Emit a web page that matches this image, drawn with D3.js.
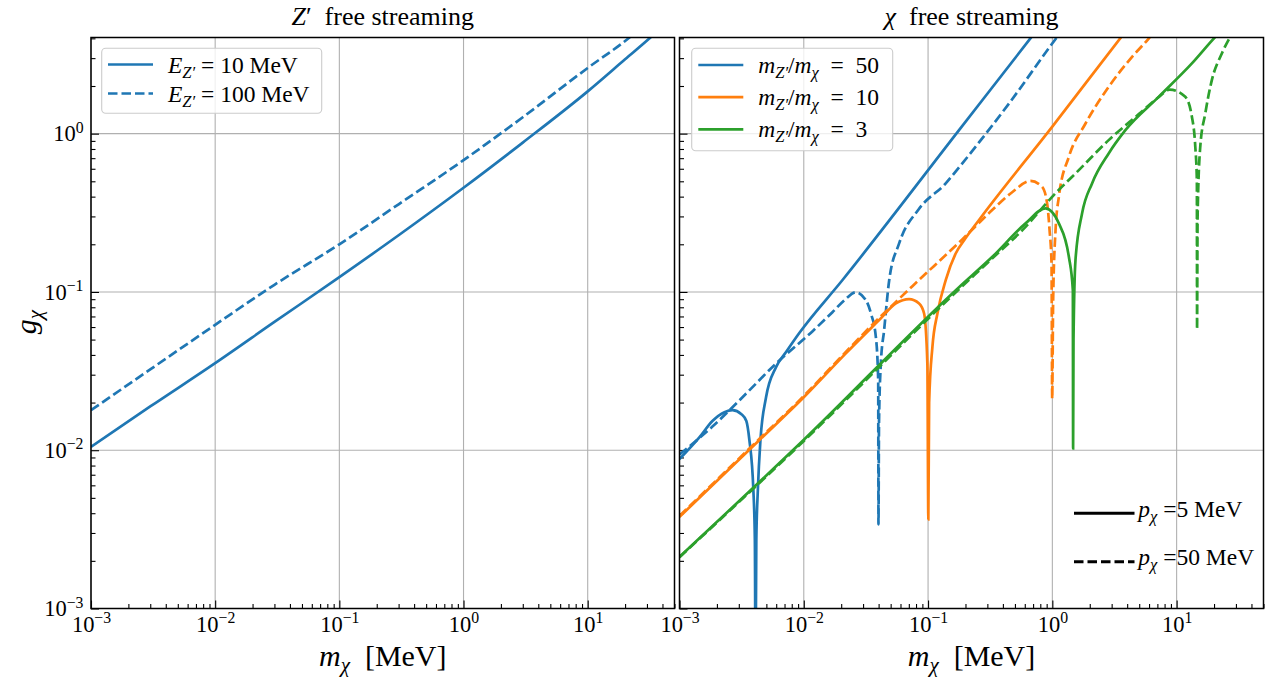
<!DOCTYPE html>
<html><head><meta charset="utf-8">
<script src="https://cdn.jsdelivr.net/npm/d3@7"></script>
<style>
body{margin:0;background:#fff}
svg{display:block}
svg text{font-family:"Liberation Serif",serif;fill:#000}
</style>
</head><body>
<svg id="chart" width="1267" height="677" font-family="Liberation Serif"></svg>
<script>
// ---------------- data (m_chi [MeV], g_chi) ----------------
const xDomain = [1e-3, 50];
const yDomain = [1e-3, 4.05];
const xTickExps = [-3, -2, -1, 0, 1];
const yTickExps = [-3, -2, -1, 0];

// Left panel: Z' free streaming
const zpE10 = [[0.001,0.0105],[0.003,0.0189],[0.01,0.0355],[0.03,0.0646],[0.1,0.124],[0.3,0.228],[1,0.455],[3,0.878],[10,1.85],[20,2.95],[32,4.05],[50,5.6]];
const zpE100 = [[0.001,0.0179],[0.003,0.0324],[0.01,0.062],[0.03,0.111],[0.1,0.2],[0.3,0.358],[1,0.68],[3,1.27],[10,2.6],[21.7,4.05],[50,7.4]];

// Right panel: chi free streaming, ratio 50 / 10 / 3, p = 5 MeV (solid) / 50 MeV (dashed)
const r50p5 = [[0.001,0.0088],[0.00145,0.0121],[0.00184,0.0153],[0.0023,0.0174],[0.00267,0.0179],[0.00315,0.0169],[0.00345,0.0153],[0.00365,0.0116],[0.00393,0.0056],[0.00404,0.0027],[0.00409,0.0004],[0.00415,0.0027],[0.00427,0.0056],[0.00448,0.0116],[0.00497,0.0216],[0.00598,0.0335],[0.0072,0.0417],[0.0092,0.055],[0.0205,0.119],[0.1775,1.052],[0.668,4.01],[1.0,6.0]];
const r50p50 = [[0.001,0.0094],[0.00184,0.0141],[0.00344,0.0228],[0.00598,0.0353],[0.01178,0.0565],[0.017,0.0745],[0.0215,0.0895],[0.0262,0.0995],[0.0316,0.0888],[0.0347,0.0731],[0.038,0.052],[0.0397,0.0277],[0.0399,0.0034],[0.0403,0.015],[0.0417,0.0353],[0.0443,0.0574],[0.0487,0.119],[0.0585,0.2025],[0.0847,0.335],[0.1387,0.485],[0.1775,0.612],[0.257,0.88],[0.448,1.55],[1.083,4.04],[1.5,5.6]];
const r10p5 = [[0.001,0.00379],[0.0044,0.0116],[0.00977,0.0212],[0.0218,0.0409],[0.0404,0.0664],[0.0551,0.0846],[0.0703,0.0901],[0.0847,0.0846],[0.0929,0.0731],[0.0987,0.0353],[0.1005,0.00366],[0.102,0.02],[0.1084,0.045],[0.1189,0.0731],[0.1387,0.1188],[0.1668,0.175],[0.2,0.218],[0.257,0.285],[0.996,1.104],[3.55,4.04],[5,5.7]];
const r10p50 = [[0.001,0.00385],[0.0044,0.0118],[0.00977,0.0216],[0.0218,0.0418],[0.0404,0.0685],[0.0551,0.0865],[0.0748,0.1087],[0.1875,0.214],[0.328,0.329],[0.475,0.4266],[0.668,0.503],[0.828,0.461],[0.908,0.362],[0.95,0.2456],[0.985,0.1514],[0.997,0.0212],[1.015,0.089],[1.061,0.2456],[1.128,0.399],[1.358,0.714],[1.849,1.159],[2.84,1.976],[4.38,3.056],[5.96,3.99],[8,5.4]];
const r3p5 = [[0.001,0.00212],[0.00996,0.0116],[0.1775,0.1072],[0.329,0.1667],[0.609,0.271],[0.881,0.337],[1.128,0.271],[1.358,0.1667],[1.462,0.1026],[1.469,0.01026],[1.48,0.05],[1.535,0.159],[1.734,0.313],[2.087,0.485],[2.84,0.75],[3.87,1.052],[7.17,1.708],[13.27,2.777],[20.5,4.09],[30,5.5]];
const r3p50 = [[0.001,0.00211],[0.00996,0.0114],[0.1775,0.104],[0.329,0.163],[0.609,0.2577],[0.996,0.399],[1.633,0.588],[2.84,0.91],[4.96,1.328],[7.17,1.70],[8.79,1.90],[11.74,1.708],[13.27,1.277],[14.13,0.826],[14.55,0.508],[14.6,0.058],[14.75,0.3],[15.49,0.826],[17.0,1.342],[19.2,2.178],[23.1,3.21],[27.0,4.09],[35,5.5]];

const ratioLabels = ["50", "10", "3"];
const momentumLabels = ["5", "50"];
const energyLabels = ["10", "100"];
const colors = ["#1f77b4", "#ff7f0e", "#2ca02c"];

// ---------------- layout ----------------
const SERIF = "Liberation Serif";
const svg = d3.select("#chart");
const plotTop = 37.5, plotBottom = 608.5;
const panels = [{x0: 91, x1: 674.5}, {x0: 679.5, x1: 1263.5}];
const DASH = "9.5,4";
const LW = 2.7;
const TICKFS = 22.5;

const y = d3.scaleLog().domain(yDomain).range([plotBottom, plotTop]);
const xs = panels.map(p => d3.scaleLog().domain(xDomain).range([p.x0, p.x1]));

const xMajor = xTickExps.map(e => Math.pow(10, e));
const xMinor = [];
xTickExps.forEach(e => { for (let k = 2; k <= 9; k++) { const v = k * Math.pow(10, e); if (v <= xDomain[1] + 1e-9) xMinor.push(v); } });
const yMajor = yTickExps.map(e => Math.pow(10, e));
const yMinor = [];
yTickExps.forEach(e => { for (let k = 2; k <= 9; k++) { const v = k * Math.pow(10, e); if (v <= yDomain[1]) yMinor.push(v); } });

function expOf(v) { return Math.round(Math.log10(v)); }
function supText(textSel, base, exp, fs) {
  textSel.text(null);
  textSel.append("tspan").text(base);
  textSel.append("tspan").attr("font-size", fs * 0.7).attr("dy", -fs * 0.38).text(exp < 0 ? "\u2212" + (-exp) : String(exp));
}
function addText(parent) { return parent.append("text").attr("font-family", SERIF).attr("fill", "#000"); }

panels.forEach((p, i) => {
  const x = xs[i];
  const g = svg.append("g");
  const clipId = "clip" + i;
  svg.append("clipPath").attr("id", clipId).append("rect")
    .attr("x", p.x0).attr("y", plotTop).attr("width", p.x1 - p.x0).attr("height", plotBottom - plotTop);

  // grid
  const grid = g.append("g").attr("stroke", "#b0b0b0").attr("stroke-width", 1.1);
  xMajor.forEach(v => grid.append("line").attr("x1", x(v)).attr("x2", x(v)).attr("y1", plotTop).attr("y2", plotBottom));
  yMajor.forEach(v => grid.append("line").attr("x1", p.x0).attr("x2", p.x1).attr("y1", y(v)).attr("y2", y(v)));

  // axes ticks (inward)
  const axB = g.append("g").attr("transform", `translate(0,${plotBottom})`)
    .call(d3.axisBottom(x).tickValues(xMajor).tickSize(-8).tickPadding(0).tickFormat(() => ""));
  const axBm = g.append("g").attr("transform", `translate(0,${plotBottom})`)
    .call(d3.axisBottom(x).tickValues(xMinor).tickSize(-4.5).tickFormat(() => ""));
  const axL = g.append("g").attr("transform", `translate(${p.x0},0)`)
    .call(d3.axisLeft(y).tickValues(yMajor).tickSize(-8).tickFormat(() => ""));
  const axLm = g.append("g").attr("transform", `translate(${p.x0},0)`)
    .call(d3.axisLeft(y).tickValues(yMinor).tickSize(-4.5).tickFormat(() => ""));
  [axB, axBm, axL, axLm].forEach(a => {
    a.attr("font-family", SERIF);
    a.select(".domain").remove();
    a.selectAll(".tick line").attr("stroke", "#000").attr("stroke-width", 1.1);
  });

  // tick labels
  axB.selectAll(".tick text").each(function(d) {
    const t = d3.select(this).attr("y", 23.5).attr("dy", null).attr("font-size", TICKFS)
      .attr("font-family", SERIF).attr("fill", "#000");
    supText(t, "10", expOf(d), TICKFS);
  });
  if (i === 0) {
    axL.selectAll(".tick text").each(function(d) {
      const t = d3.select(this).attr("x", -7.5).attr("dy", "0.32em").attr("font-size", TICKFS)
        .attr("font-family", SERIF).attr("fill", "#000").attr("text-anchor", "end");
      supText(t, "10", expOf(d), TICKFS);
    });
  }

  // curves
  const line = d3.line().x(d => x(d[0])).y(d => y(d[1])).curve(d3.curveMonotoneX);
  const cg = g.append("g").attr("clip-path", `url(#${clipId})`).attr("fill", "none").attr("stroke-width", LW);
  if (i === 0) {
    cg.append("path").attr("d", line(zpE10)).attr("stroke", colors[0]);
    cg.append("path").attr("d", line(zpE100)).attr("stroke", colors[0]).attr("stroke-dasharray", DASH);
  } else {
    const series = [[r50p5, r50p50], [r10p5, r10p50], [r3p5, r3p50]];
    series.forEach((pair, k) => {
      cg.append("path").attr("d", line(pair[0])).attr("stroke", colors[k]);
      cg.append("path").attr("d", line(pair[1])).attr("stroke", colors[k]).attr("stroke-dasharray", DASH);
    });
  }

  // frame
  g.append("rect").attr("x", p.x0).attr("y", plotTop).attr("width", p.x1 - p.x0).attr("height", plotBottom - plotTop)
    .attr("fill", "none").attr("stroke", "#000").attr("stroke-width", 1.5);

  // x label
  const xl = addText(g).attr("x", (p.x0 + p.x1) / 2).attr("y", 666).attr("text-anchor", "middle").attr("font-size", 30);
  xl.append("tspan").attr("font-style", "italic").text("m");
  xl.append("tspan").attr("font-style", "italic").attr("font-size", 21).attr("dy", 6).text("\u03c7");
  xl.append("tspan").attr("dy", -6).text("\u2002[MeV]");

  // title
  const tt = addText(g).attr("x", (p.x0 + p.x1) / 2).attr("y", 25).attr("text-anchor", "middle").attr("font-size", 26);
  if (i === 0) {
    tt.append("tspan").attr("font-style", "italic").text("Z");
    tt.append("tspan").text("\u2032\u2002free streaming");
  } else {
    tt.append("tspan").attr("font-style", "italic").text("\u03c7");
    tt.append("tspan").text("\u2002free streaming");
  }
});

// y label
const yl = addText(svg).attr("transform", "translate(36,322) rotate(-90)").attr("text-anchor", "middle").attr("font-size", 30);
yl.append("tspan").attr("font-style", "italic").text("g");
yl.append("tspan").attr("font-style", "italic").attr("font-size", 21).attr("dy", 6).text("\u03c7");

// legends
const LFS = 23.5, SFS = 16.5;
function legendBox(x0, y0, w, h) {
  svg.append("rect").attr("x", x0).attr("y", y0).attr("width", w).attr("height", h).attr("rx", 4)
    .attr("fill", "#fff").attr("fill-opacity", 0.8).attr("stroke", "#cccccc").attr("stroke-width", 1.1);
}
// left legend
legendBox(101.7, 48.3, 220, 65);
energyLabels.forEach((lab, k) => {
  const yy = 64.5 + k * 29;
  svg.append("line").attr("x1", 108).attr("x2", 153).attr("y1", yy).attr("y2", yy)
    .attr("stroke", colors[0]).attr("stroke-width", LW).attr("stroke-dasharray", k ? DASH : null);
  const t = addText(svg).attr("x", 168).attr("y", yy + 8).attr("font-size", LFS);
  t.append("tspan").attr("font-style", "italic").text("E");
  t.append("tspan").attr("font-style", "italic").attr("font-size", SFS).attr("dy", 5).text("Z\u2032");
  t.append("tspan").attr("dy", -5).text(" = " + lab + " MeV");
});
// right legend
legendBox(691.7, 48.3, 201, 102.4);
ratioLabels.forEach((lab, k) => {
  const yy = 65 + k * 32.2;
  svg.append("line").attr("x1", 698.3).attr("x2", 743.3).attr("y1", yy).attr("y2", yy)
    .attr("stroke", colors[k]).attr("stroke-width", LW);
  const t = addText(svg).attr("x", 758.3).attr("y", yy + 8).attr("font-size", LFS);
  t.append("tspan").attr("font-style", "italic").text("m");
  t.append("tspan").attr("font-style", "italic").attr("font-size", SFS).attr("dy", 5).text("Z\u2032");
  t.append("tspan").attr("dy", -5).text("/");
  t.append("tspan").attr("font-style", "italic").text("m");
  t.append("tspan").attr("font-style", "italic").attr("font-size", SFS).attr("dy", 5).text("\u03c7");
  t.append("tspan").attr("dy", -5).text("\u2002=\u2002" + lab);
});
// momentum legend
momentumLabels.forEach((lab, k) => {
  const yy = 513.3 + k * 48.4;
  svg.append("line").attr("x1", 1074).attr("x2", 1134.5).attr("y1", yy).attr("y2", yy)
    .attr("stroke", "#000").attr("stroke-width", LW + 0.2).attr("stroke-dasharray", k ? DASH : null);
  const t = addText(svg).attr("x", 1138.3).attr("y", yy + 3.5).attr("font-size", LFS);
  t.append("tspan").attr("font-style", "italic").text("p");
  t.append("tspan").attr("font-style", "italic").attr("font-size", SFS).attr("dy", 5).text("\u03c7");
  t.append("tspan").attr("dy", -5).text(" =" + lab + " MeV");
});
</script>
</body></html>
